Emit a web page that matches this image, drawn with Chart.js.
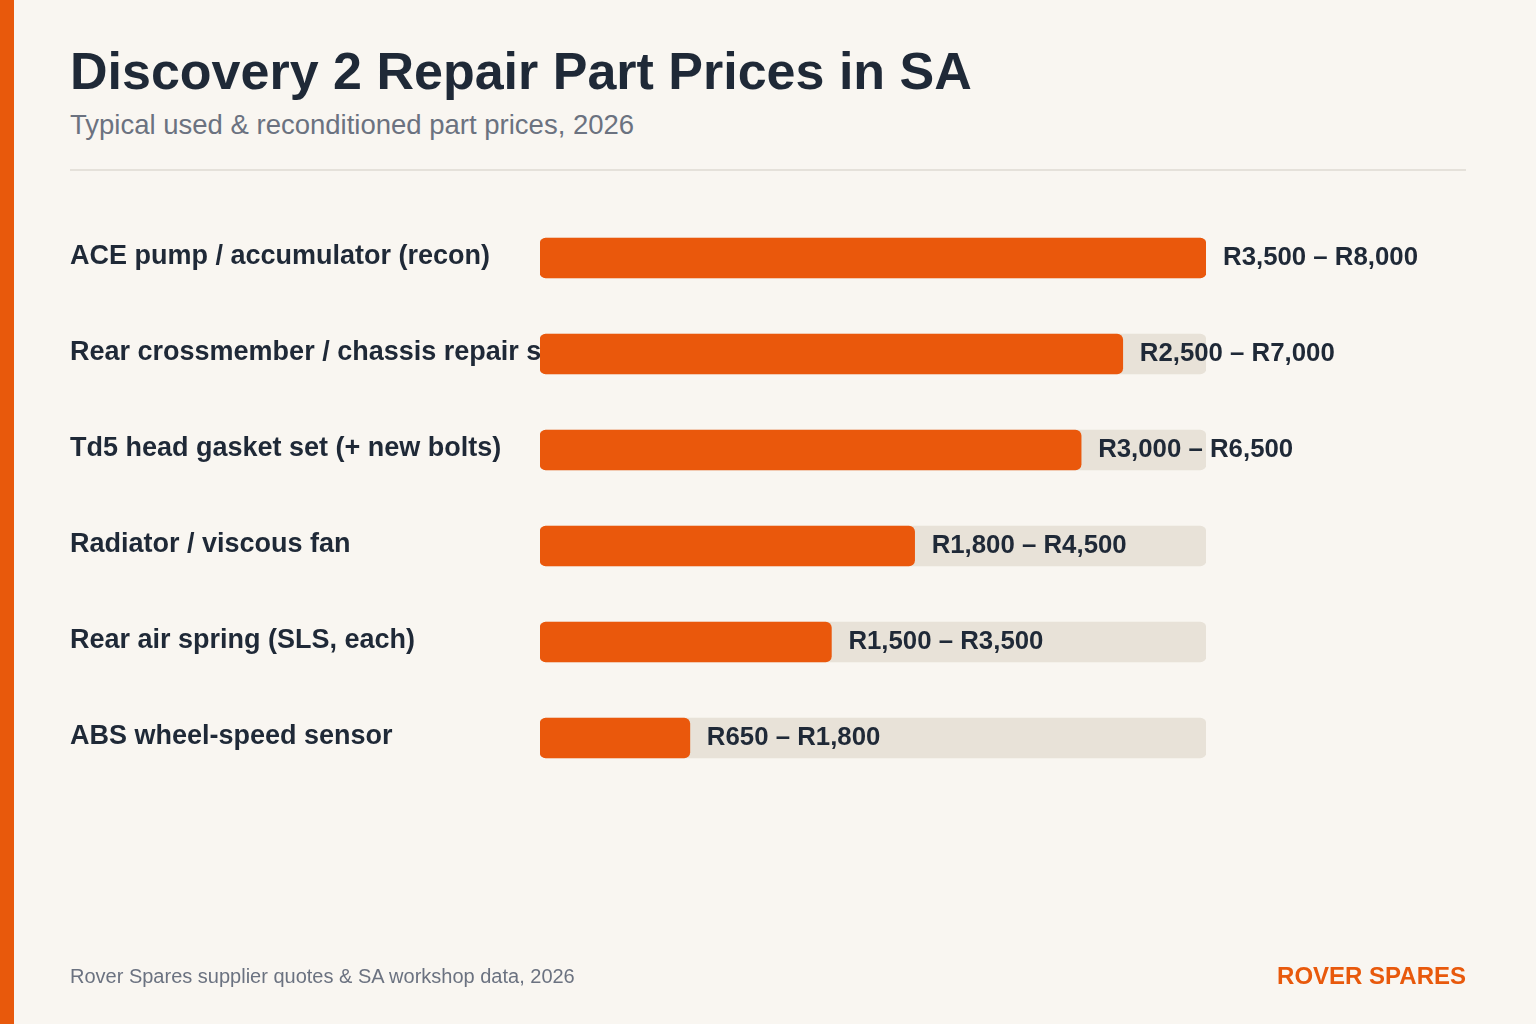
<!DOCTYPE html>
<html>
<head>
<meta charset="utf-8">
<script src="https://cdn.jsdelivr.net/npm/chart.js@4"></script>
<style>
body{margin:0;background:#f9f6f1;font-family:"Liberation Sans",Arial,sans-serif;}
#wrap{position:relative;width:1536px;height:1024px;overflow:hidden;}
#stripe{position:absolute;left:0;top:0;width:14px;height:1024px;background:#e8590c;}
h1{position:absolute;left:70px;top:41px;margin:0;font-size:52px;font-weight:bold;color:#1f2937;}
#sub{position:absolute;left:70px;top:109px;font-size:27.5px;color:#6b7280;}
#rule{position:absolute;left:70px;top:169px;width:1396px;height:2px;background:#e5e1da;}
#src{position:absolute;left:70px;top:965px;font-size:20px;color:#6b7280;}
#brand{position:absolute;right:70px;top:962px;font-size:24px;font-weight:bold;color:#e8590c;}
canvas{position:absolute;left:0;top:0;}
</style>
</head>
<body>
<div id="wrap">
<div id="stripe"></div>
<h1>Discovery 2 Repair Part Prices in SA</h1>
<div id="sub">Typical used &amp; reconditioned part prices, 2026</div>
<div id="rule"></div>
<canvas id="c" width="1536" height="1024"></canvas>
<div id="src">Rover Spares supplier quotes &amp; SA workshop data, 2026</div>
<div id="brand">ROVER SPARES</div>
</div>
<script>
const parts = ["ACE pump / accumulator (recon)", "Rear crossmember / chassis repair section", "Td5 head gasket set (+ new bolts)", "Radiator / viscous fan", "Rear air spring (SLS, each)", "ABS wheel-speed sensor"]
const lowPrices = [3500, 2500, 3000, 1800, 1500, 650]
const highPrices = [8000, 7000, 6500, 4500, 3500, 1800]
const scaleMax = 8000

const fmt = v => "R" + v.toLocaleString("en-US")

// category names on the left, drawn under the bars
const namesPlugin = {
id:"names",
beforeDatasetsDraw(chart){
const c = chart.ctx
const y = chart.scales.y
c.save()
c.font = "bold 27px 'Liberation Sans', Arial, sans-serif"
c.fillStyle = "#1f2937"
c.textBaseline = "middle"
parts.forEach((p,i)=>{
c.fillText(p, 70, y.getPixelForValue(i) - 1)
})
c.restore()
},
afterDatasetsDraw(chart){
const c = chart.ctx
const meta = chart.getDatasetMeta(1)
c.save()
c.font = "bold 25.8px 'Liberation Sans', Arial, sans-serif"
c.fillStyle = "#1f2937"
c.textBaseline = "middle"
meta.data.forEach((bar,i)=>{
c.fillText(fmt(lowPrices[i]) + " \u2013 " + fmt(highPrices[i]), bar.x + 17, bar.y)
})
c.restore()
}
}

new Chart(document.getElementById("c"),{
type:"bar",
data:{
labels:parts,
datasets:[
{
data:parts.map(()=>scaleMax),
backgroundColor:"#e8e2d8",
borderRadius:6,
borderSkipped:false,
barThickness:40,
grouped:false,
order:2
},
{
data:highPrices,
backgroundColor:"#ea580c",
borderRadius:6,
borderSkipped:false,
barThickness:40,
grouped:false,
order:1
}
]
},
options:{
indexAxis:"y",
responsive:false,
animation:false,
layout:{padding:{left:540,right:330,top:210,bottom:238}},
plugins:{legend:{display:false},tooltip:{enabled:false}},
scales:{
x:{display:false,min:0,max:scaleMax},
y:{display:false}
}
},
plugins:[namesPlugin]
})
</script>
</body>
</html>
